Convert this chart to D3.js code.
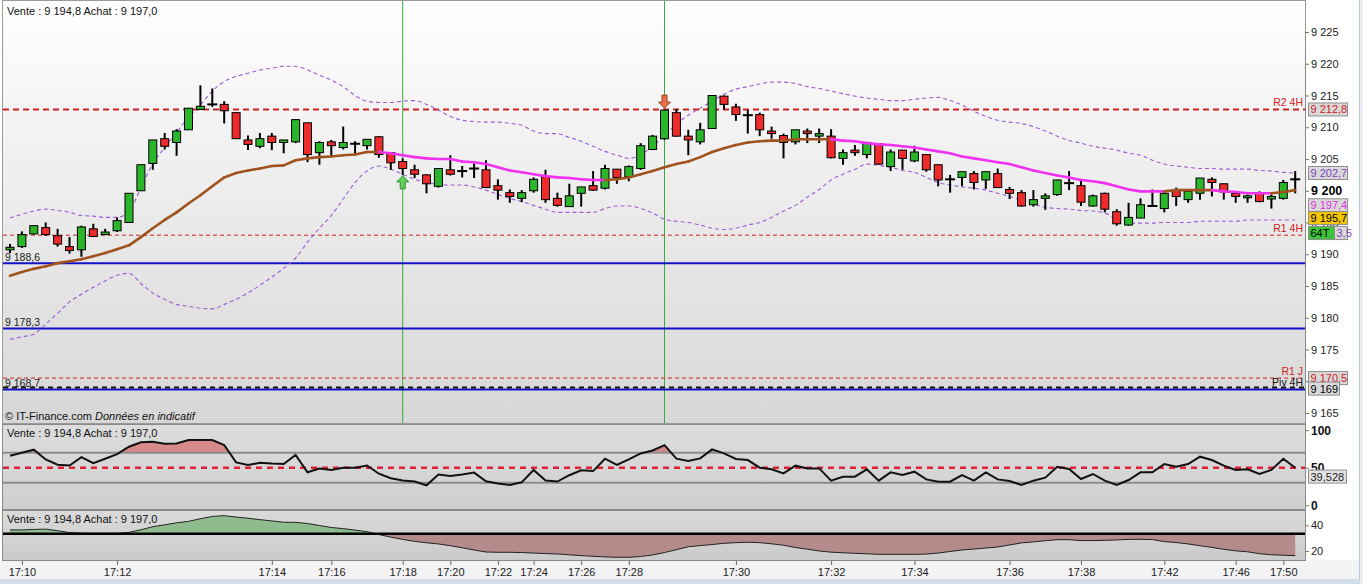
<!DOCTYPE html>
<html>
<head>
<meta charset="utf-8">
<script src="https://cdn.jsdelivr.net/npm/d3@7"></script>
<style>
  body { margin: 0; background: #fff; }
  text { font-family: "Liberation Sans", Arial, sans-serif; }
</style>
</head>
<body>
<div id="chart"></div>
<script>
// ---- data (one value per candle, 109 candles) ----
const openP = [9190.7, 9191.2, 9193.2, 9194.2, 9192.9, 9191.2, 9190.7, 9194.0, 9193.1, 9193.7,
  9195.0, 9200.0, 9204.3, 9208.2, 9207.6, 9209.6, 9212.8, 9213.6, 9213.6, 9212.3,
  9208.0, 9207.0, 9208.6, 9207.6, 9207.7, 9210.7, 9206.0, 9207.7, 9206.8, 9207.4,
  9207.1, 9208.5, 9206.0, 9204.6, 9203.3, 9202.5, 9200.7, 9203.3, 9203.1, 9203.5,
  9203.3, 9200.8, 9199.7, 9198.8, 9200.0, 9202.2, 9198.8, 9197.5, 9199.6, 9200.8,
  9200.4, 9203.4, 9202.2, 9203.5, 9206.5, 9208.2, 9212.3, 9208.6, 9207.7, 9209.8,
  9214.9, 9213.2, 9211.9, 9212.0, 9209.4, 9208.7, 9207.7, 9209.4, 9208.6, 9208.6,
  9205.1, 9206.4, 9205.7, 9207.4, 9203.8, 9206.4, 9204.7, 9205.7, 9204.1, 9201.8,
  9202.1, 9202.7, 9201.7, 9202.7, 9200.2, 9199.7, 9197.8, 9198.8, 9199.4, 9201.2,
  9200.8, 9197.6, 9199.6, 9196.7, 9194.6, 9195.7, 9197.6, 9197.2, 9200.1, 9198.6,
  9199.6, 9201.8, 9201.1, 9199.6, 9198.9, 9199.6, 9198.7, 9198.8, 9201.8];
const highP = [9191.6, 9193.6, 9194.5, 9195.0, 9194.0, 9192.7, 9194.5, 9194.8, 9194.0, 9195.8,
  9199.6, 9204.1, 9208.0, 9209.1, 9209.7, 9213.0, 9216.6, 9216.1, 9214.1, 9212.3,
  9208.7, 9209.1, 9209.1, 9208.0, 9211.2, 9210.7, 9207.8, 9208.0, 9210.1, 9207.8,
  9208.1, 9208.6, 9206.0, 9205.1, 9204.1, 9202.6, 9203.5, 9205.6, 9203.9, 9204.3,
  9204.8, 9201.8, 9200.2, 9200.1, 9202.1, 9203.3, 9199.7, 9201.1, 9200.6, 9203.1,
  9204.1, 9203.4, 9204.0, 9207.5, 9208.8, 9212.7, 9212.9, 9209.6, 9210.7, 9215.0,
  9215.0, 9213.7, 9212.7, 9212.3, 9210.1, 9209.0, 9209.6, 9209.8, 9209.8, 9209.7,
  9206.5, 9207.2, 9207.6, 9207.5, 9206.5, 9206.4, 9207.1, 9205.7, 9204.1, 9202.5,
  9203.0, 9203.1, 9203.0, 9203.5, 9200.6, 9200.1, 9200.1, 9199.6, 9201.7, 9203.1,
  9201.7, 9199.4, 9199.7, 9197.1, 9198.1, 9198.8, 9200.2, 9199.8, 9200.5, 9200.1,
  9202.0, 9202.1, 9201.1, 9199.6, 9199.4, 9199.9, 9199.4, 9201.7, 9203.1];
const lowP = [9190.2, 9191.0, 9193.1, 9192.9, 9191.2, 9190.1, 9189.6, 9192.7, 9193.1, 9193.5,
  9195.0, 9200.0, 9203.3, 9206.5, 9205.5, 9209.6, 9212.8, 9213.2, 9210.6, 9208.2,
  9206.4, 9206.7, 9206.4, 9205.9, 9207.5, 9204.5, 9204.1, 9205.3, 9206.5, 9205.6,
  9206.5, 9205.2, 9203.3, 9202.5, 9202.0, 9199.6, 9200.5, 9202.4, 9202.1, 9202.0,
  9200.5, 9198.6, 9198.1, 9198.2, 9199.7, 9198.1, 9197.5, 9197.5, 9197.5, 9200.0,
  9200.2, 9201.1, 9201.5, 9203.3, 9206.4, 9208.0, 9208.5, 9205.6, 9207.3, 9209.8,
  9212.8, 9211.0, 9209.0, 9208.6, 9208.2, 9205.1, 9207.3, 9207.5, 9207.5, 9205.1,
  9204.1, 9205.5, 9205.1, 9204.1, 9203.1, 9203.3, 9204.5, 9203.0, 9200.7, 9199.7,
  9200.7, 9200.2, 9200.3, 9200.5, 9198.7, 9197.5, 9197.5, 9197.0, 9199.2, 9200.1,
  9197.6, 9197.5, 9196.6, 9194.5, 9194.5, 9195.7, 9197.6, 9196.6, 9197.6, 9198.1,
  9198.6, 9199.1, 9198.6, 9198.1, 9198.1, 9198.2, 9197.2, 9198.6, 9199.6];
const closeP = [9191.1, 9193.1, 9194.5, 9193.1, 9191.6, 9190.6, 9194.3, 9192.8, 9193.5, 9195.3,
  9199.6, 9204.1, 9208.0, 9207.0, 9209.4, 9213.0, 9213.3, 9213.6, 9212.6, 9208.2,
  9207.3, 9208.2, 9207.6, 9208.0, 9211.2, 9205.7, 9207.6, 9207.1, 9207.6, 9207.4,
  9208.1, 9205.7, 9204.4, 9203.5, 9202.6, 9201.1, 9203.5, 9202.6, 9203.1, 9203.5,
  9200.5, 9200.1, 9199.1, 9199.7, 9201.8, 9198.6, 9197.7, 9199.2, 9200.6, 9200.1,
  9203.5, 9202.1, 9203.8, 9207.1, 9208.6, 9212.7, 9208.6, 9208.0, 9209.6, 9215.0,
  9213.6, 9212.0, 9211.9, 9209.6, 9209.0, 9207.6, 9209.6, 9209.0, 9209.0, 9205.2,
  9206.0, 9206.0, 9207.6, 9204.2, 9206.1, 9205.1, 9206.1, 9203.3, 9201.7, 9201.8,
  9203.0, 9201.3, 9203.0, 9200.5, 9199.6, 9197.6, 9198.6, 9199.2, 9201.7, 9201.2,
  9198.2, 9199.2, 9197.1, 9194.8, 9195.8, 9197.8, 9197.6, 9199.6, 9199.1, 9199.9,
  9202.0, 9201.3, 9199.8, 9199.1, 9199.2, 9198.3, 9199.1, 9201.3, 9201.8];

// moving average (brown when rising, magenta when falling)
const maLine = [9186.6, 9187.2, 9187.7, 9188.1, 9188.6, 9188.9, 9189.2, 9189.7, 9190.2, 9190.8,
  9191.4, 9192.7, 9194.1, 9195.4, 9196.6, 9198.0, 9199.3, 9200.7, 9202.1, 9202.8,
  9203.2, 9203.5, 9203.9, 9204.0, 9204.8, 9205.1, 9205.3, 9205.4, 9205.6, 9205.7,
  9206.1, 9206.1, 9205.9, 9205.6, 9205.3, 9205.1, 9205.0, 9205.0, 9204.6, 9204.5,
  9204.2, 9203.7, 9203.2, 9202.9, 9202.6, 9202.3, 9202.1, 9202.0, 9201.8, 9201.7,
  9201.7, 9201.8, 9202.1, 9202.6, 9203.1, 9203.7, 9204.2, 9204.6, 9205.3, 9206.1,
  9206.7, 9207.2, 9207.6, 9207.8, 9207.9, 9207.9, 9208.1, 9208.1, 9208.1, 9208.1,
  9207.9, 9207.8, 9207.5, 9207.3, 9207.2, 9207.0, 9206.8, 9206.5, 9206.2, 9205.9,
  9205.4, 9205.1, 9204.8, 9204.5, 9204.2, 9203.7, 9203.2, 9202.8, 9202.4, 9202.1,
  9201.7, 9201.5, 9201.2, 9200.7, 9200.2, 9199.9, 9199.9, 9199.9, 9200.1, 9200.1,
  9200.1, 9200.1, 9199.9, 9199.8, 9199.6, 9199.6, 9199.6, 9199.8, 9200.1];

// bollinger bands
const bbUpper = [9195.7, 9196.3, 9196.8, 9197.1, 9196.9, 9196.6, 9196.1, 9196.0, 9195.8, 9195.8,
  9196.8, 9200.4, 9204.3, 9206.8, 9209.2, 9211.6, 9213.5, 9215.7, 9217.2, 9218.0,
  9218.5, 9219.0, 9219.3, 9219.6, 9219.6, 9219.0, 9218.2, 9217.4, 9216.4, 9215.0,
  9214.1, 9213.9, 9213.9, 9214.1, 9214.2, 9213.6, 9212.7, 9211.7, 9211.1, 9210.9,
  9210.8, 9210.8, 9210.6, 9210.3, 9209.4, 9209.0, 9209.0, 9208.4, 9207.8, 9207.0,
  9206.2, 9205.6, 9205.1, 9205.7, 9207.0, 9208.7, 9210.5, 9211.9, 9213.0, 9214.1,
  9215.2, 9216.0, 9216.4, 9216.8, 9217.1, 9217.1, 9216.9, 9216.4, 9216.1, 9215.7,
  9215.3, 9214.9, 9214.6, 9214.4, 9214.2, 9214.2, 9214.4, 9214.6, 9214.7, 9214.2,
  9213.5, 9212.5, 9211.7, 9211.1, 9210.8, 9210.6, 9210.1, 9209.4, 9208.6, 9207.9,
  9207.5, 9207.0, 9206.7, 9206.4, 9205.9, 9205.6, 9204.8, 9204.2, 9203.9, 9203.7,
  9203.5, 9203.5, 9203.4, 9203.4, 9203.4, 9203.2, 9203.1, 9202.9, 9202.8];
const bbLower = [9176.6, 9177.0, 9177.4, 9179.0, 9180.7, 9182.5, 9183.7, 9184.8, 9185.8, 9186.7,
  9187.0, 9185.4, 9183.9, 9182.9, 9182.1, 9181.8, 9181.5, 9181.4, 9182.1, 9182.9,
  9183.9, 9185.1, 9186.4, 9187.8, 9189.4, 9191.9, 9194.1, 9196.1, 9198.7, 9201.3,
  9203.1, 9203.9, 9203.4, 9202.6, 9201.8, 9201.3, 9201.0, 9200.9, 9200.9, 9200.6,
  9200.1, 9199.4, 9198.8, 9198.3, 9197.7, 9197.1, 9196.6, 9196.6, 9196.6, 9196.6,
  9197.2, 9197.6, 9197.6, 9197.2, 9196.5, 9195.5, 9195.2, 9195.0, 9194.6, 9194.1,
  9193.9, 9194.1, 9194.6, 9195.0, 9195.8, 9196.8, 9197.7, 9199.0, 9200.2, 9201.7,
  9202.6, 9203.4, 9204.2, 9204.0, 9203.7, 9203.2, 9202.9, 9202.1, 9201.3, 9200.9,
  9200.6, 9200.4, 9200.1, 9199.6, 9199.1, 9198.5, 9197.9, 9197.4, 9197.2, 9197.1,
  9196.9, 9196.8, 9196.5, 9195.5, 9194.9, 9194.9, 9194.9, 9195.0, 9195.0, 9195.0,
  9195.2, 9195.2, 9195.2, 9195.2, 9195.4, 9195.4, 9195.4, 9195.4, 9195.4];

// RSI panel
const rsiLine = [66, 70, 74, 61, 54, 53, 64, 56, 62, 68,
  78, 84, 84.5, 82, 82.4, 86.9, 86.9, 86.9, 80.2, 57.1,
  53.6, 56.5, 55.5, 55, 67, 44, 49, 47, 50, 50,
  53, 42, 36, 33, 31.5, 26.5, 41, 39, 41, 43.5,
  32, 29, 27, 30.5, 47, 33, 31.5, 40, 46.5, 45.5,
  62, 53.6, 61, 69, 73, 80, 62, 59, 62.4, 74.4,
  69.1, 61.6, 60.2, 50, 47.8, 42.4, 52.7, 49.1, 49.1, 32.7,
  38, 38, 47.8, 32.7, 43.8, 40.2, 44.7, 34.4, 31.3, 31.3,
  40.2, 32.7, 43.8, 34.4, 32.2, 26.9, 32.7, 36.7, 51.3, 48.2,
  34.9, 41.6, 32.7, 26.9, 33.6, 43.8, 43.8, 54.9, 51.3, 54.9,
  64.7, 60.2, 52.7, 47, 47.8, 41.6, 47, 62, 50];
const rsiLast = 39.528;
const rsiBands = [70, 30];

// lower oscillator panel
const oscLine = [36.4, 36.4, 36.8, 37, 35.8, 34.3, 33.9, 33.8, 33.8, 33.8,
  34.5, 36.5, 38.9, 40.4, 41.9, 43.1, 45.1, 46.9, 47.5, 46.4,
  45.5, 44.4, 43.4, 42.4, 42.3, 41.4, 39.8, 38.3, 37.4, 36.3,
  35, 32.8, 30.8, 29, 27.5, 26.4, 25.5, 24.1, 22.5, 20.8,
  19.2, 19, 19, 18.8, 18.4, 18, 17.7, 17, 16.4, 15.9,
  15.4, 15.1, 15.1, 15.7, 16.9, 18.8, 21, 23.3, 24.2, 25,
  26, 26.5, 26.8, 26.5, 25.6, 24.5, 22.7, 21.4, 20, 19.1,
  18.6, 18.2, 17.8, 17.4, 17.4, 17.4, 17.4, 17.6, 18.4, 19.6,
  20.8, 21.5, 22.3, 23.1, 24.7, 26.3, 27.1, 28, 28.8, 28.8,
  28.1, 28.1, 28.3, 28.6, 29, 29.1, 28.9, 27.3, 26.6, 25.5,
  24.1, 22.8, 21.3, 20.1, 19.4, 17.9, 17.1, 16.7, 16.4];
const oscBase = 33.5;

// time axis: candle index of each label
const tickIndex = [1, 9, 22, 27, 33, 37, 41, 44, 48, 52, 61, 69, 76, 84, 90, 97, 103, 107];
const tickLabel = ["17:10", "17:12", "17:14", "17:16", "17:18", "17:20", "17:22", "17:24", "17:26",
  "17:28", "17:30", "17:32", "17:34", "17:36", "17:38", "17:42", "17:46", "17:50"];

// pivot levels (dashed) and support lines (blue)
const pivotNames = ["R2 4H", "R1 4H", "R1 J", "Piv 4H"];
const pivotValues = [9212.8, 9193.0, 9170.5, 9169.0];
const supportValues = [9188.6, 9178.3, 9168.7];

// signals: vertical lines, buy below, sell above
const buyIndex = 33, sellIndex = 55;

const quoteText = "Vente : 9 194,8 Achat : 9 197,0";

// ---- layout ----
const W = 1363, H = 584;
const plotL = 3, plotR = 1305;
const mainT = 0, mainB = 423;
const rsiT = 425, rsiB = 509;
const oscT = 511, oscB = 560;

const loc = d3.formatLocale({ decimal: ",", thousands: " ", grouping: [3], currency: ["", ""] });
const fmt0 = loc.format(",.0f");
const fmt1 = loc.format(",.1f");
const fmt3 = loc.format(".3f");

const n = closeP.length;
const idx = d3.range(n);

const x = d3.scaleLinear().domain([0, 108]).range([10, 1295.2]);
const y = d3.scaleLinear().domain([9165, 9225]).range([413, 32]);
const yR = d3.scaleLinear().domain([0, 100]).range([505.2, 430.2]);
const yO = d3.scaleLinear().domain([20, 40]).range([551, 525.3]);

const svg = d3.select("#chart").append("svg")
  .attr("width", W).attr("height", H);

const defs = svg.append("defs");
function vGrad(id, c0, c1) {
  const g = defs.append("linearGradient").attr("id", id)
    .attr("x1", "0%").attr("y1", "0%").attr("x2", "0%").attr("y2", "100%");
  g.append("stop").attr("offset", "0%").attr("stop-color", c0);
  g.append("stop").attr("offset", "100%").attr("stop-color", c1);
}
vGrad("gMain", "#ffffff", "#d7d7d7");
vGrad("gRsi", "#dddddd", "#cfcfcf");
vGrad("gOsc", "#dadada", "#cbcbcb");

function clip(id, x0, y0, x1, y1) {
  defs.append("clipPath").attr("id", id).append("rect")
    .attr("x", x0).attr("y", y0).attr("width", x1 - x0).attr("height", y1 - y0);
}
clip("cMain", plotL, mainT, plotR, mainB);
clip("cRsi", plotL, rsiT, plotR, rsiB);
clip("cRsiHigh", plotL, rsiT, plotR, yR(70));
clip("cOscUp", plotL, oscT, plotR, yO(oscBase));
clip("cOscDown", plotL, yO(oscBase), plotR, oscB);

// page background and frame
svg.append("rect").attr("width", W).attr("height", H).attr("fill", "#ffffff");
svg.append("rect").attr("x", 0).attr("y", 579).attr("width", W).attr("height", 5).attr("fill", "#d3dde8");
svg.append("line").attr("x1", 1359.5).attr("x2", 1359.5).attr("y1", 0).attr("y2", 579)
  .attr("stroke", "#b9c6d3");
svg.append("rect").attr("x", 1360).attr("y", 0).attr("width", 3).attr("height", 584).attr("fill", "#e9eef3");

// panel backgrounds
svg.append("rect").attr("x", plotL).attr("y", mainT).attr("width", plotR - plotL).attr("height", mainB - mainT)
  .attr("fill", "url(#gMain)");
svg.append("rect").attr("x", plotL).attr("y", rsiT).attr("width", plotR - plotL).attr("height", rsiB - rsiT)
  .attr("fill", "url(#gRsi)");
svg.append("rect").attr("x", plotL).attr("y", oscT).attr("width", plotR - plotL).attr("height", oscB - oscT)
  .attr("fill", "url(#gOsc)");
svg.append("rect").attr("x", 0).attr("y", oscB).attr("width", 1359).attr("height", 19).attr("fill", "#f3f3f3");

// ================= main panel =================
const main = svg.append("g").attr("clip-path", "url(#cMain)");

// signal verticals
main.selectAll(".sig").data([buyIndex, sellIndex]).join("line")
  .attr("x1", d => x(d)).attr("x2", d => x(d))
  .attr("y1", mainT).attr("y2", mainB)
  .attr("stroke", "#3daa3d").attr("stroke-width", 1);

// support lines
main.selectAll(".sup").data(supportValues).join("line")
  .attr("x1", plotL).attr("x2", plotR)
  .attr("y1", d => y(d)).attr("y2", d => y(d))
  .attr("stroke", "#1010c8").attr("stroke-width", 2);

// pivot lines
const pivotStyle = [
  { c: "#cc2020", w: 2, dash: "6,4" },
  { c: "#cc2020", w: 1, dash: "4,3" },
  { c: "#cc2020", w: 1, dash: "4,3" },
  { c: "#111111", w: 2, dash: "5,4" }
];
main.selectAll(".piv").data(pivotValues).join("line")
  .attr("x1", plotL).attr("x2", plotR)
  .attr("y1", d => y(d)).attr("y2", d => y(d))
  .attr("stroke", (d, i) => pivotStyle[i].c)
  .attr("stroke-width", (d, i) => pivotStyle[i].w)
  .attr("stroke-dasharray", (d, i) => pivotStyle[i].dash);

// bollinger bands
const bbGen = d3.line().x((d, i) => x(i)).y(d => y(d)).curve(d3.curveMonotoneX);
[bbUpper, bbLower].forEach(band => {
  main.append("path").datum(band)
    .attr("d", bbGen)
    .attr("fill", "none")
    .attr("stroke", "#9a5cd6")
    .attr("stroke-width", 1.1)
    .attr("stroke-dasharray", "4,3");
});

// candles
const up = "#2bb52b", down = "#ee2b2b";
const candles = main.selectAll(".candle").data(idx).join("g");
candles.append("line")
  .attr("x1", i => x(i)).attr("x2", i => x(i))
  .attr("y1", i => y(highP[i])).attr("y2", i => y(lowP[i]))
  .attr("stroke", "#000").attr("stroke-width", 2);
candles.filter(i => openP[i] !== closeP[i]).append("rect")
  .attr("x", i => x(i) - 4)
  .attr("y", i => y(Math.max(openP[i], closeP[i])))
  .attr("width", 8)
  .attr("height", i => Math.max(2, y(Math.min(openP[i], closeP[i])) - y(Math.max(openP[i], closeP[i]))))
  .attr("fill", i => closeP[i] > openP[i] ? up : down)
  .attr("stroke", "#000").attr("stroke-width", 1);
candles.filter(i => openP[i] === closeP[i]).append("line")
  .attr("x1", i => x(i) - 5).attr("x2", i => x(i) + 5)
  .attr("y1", i => y(closeP[i])).attr("y2", i => y(closeP[i]))
  .attr("stroke", "#000").attr("stroke-width", 2);

// moving average, coloured by slope
let lastCol = "#a0521e";
const maSegs = [];
for (let i = 0; i < n - 1; i++) {
  if (maLine[i + 1] > maLine[i]) lastCol = "#a0521e";
  else if (maLine[i + 1] < maLine[i]) lastCol = "#f032f0";
  maSegs.push({ i: i, c: lastCol });
}
main.selectAll(".ma").data(maSegs).join("line")
  .attr("x1", d => x(d.i)).attr("x2", d => x(d.i + 1))
  .attr("y1", d => y(maLine[d.i])).attr("y2", d => y(maLine[d.i + 1]))
  .attr("stroke", d => d.c).attr("stroke-width", 2.6).attr("stroke-linecap", "round");

// buy / sell arrows
const bx = x(buyIndex), by = y(lowP[buyIndex]) + 1;
main.append("path")
  .attr("d", `M${bx},${by} l6,6 h-3.5 v7 h-5 v-7 h-3.5 z`)
  .attr("fill", "#5cd05c").attr("stroke", "#2f8f2f").attr("stroke-width", 1);
const sx = x(sellIndex), sy = y(highP[sellIndex]) - 2;
main.append("path")
  .attr("d", `M${sx},${sy} l6,-6 h-3.5 v-7 h-5 v7 h-3.5 z`)
  .attr("fill", "#e8704a").attr("stroke", "#a0401e").attr("stroke-width", 1);

// texts inside main panel
svg.append("text").attr("x", 7).attr("y", 15).attr("font-size", 11).attr("fill", "#111").text(quoteText);
supportValues.forEach(v => {
  svg.append("text").attr("x", 5).attr("y", y(v) - 2.5).attr("font-size", 10.5).attr("fill", "#222")
    .text(fmt1(v));
});
pivotNames.forEach((nm, i) => {
  svg.append("text").attr("x", plotR - 2).attr("y", y(pivotValues[i]) - (i === 3 ? 1.5 : 3.5))
    .attr("text-anchor", "end").attr("font-size", 10.5)
    .attr("fill", i === 3 ? "#111" : "#d02020").text(nm);
});
const cp = svg.append("text").attr("x", 5).attr("y", 420).attr("font-size", 11).attr("fill", "#111");
cp.append("tspan").text("© IT-Finance.com  ");
cp.append("tspan").attr("font-style", "italic").text("Données en indicatif");

// main border + price axis
svg.append("rect").attr("x", plotL - 0.5).attr("y", mainT + 0.5).attr("width", plotR - plotL + 1)
  .attr("height", mainB - mainT).attr("fill", "none").attr("stroke", "#9a9a9a");

const yAxis = svg.append("g").attr("transform", `translate(${plotR},0)`)
  .call(d3.axisRight(y).tickValues(d3.range(9165, 9226, 5)).tickSize(4).tickPadding(2).tickFormat(fmt0));
yAxis.select(".domain").attr("stroke", "#888");
yAxis.selectAll(".tick line").attr("stroke", "#777");
yAxis.selectAll(".tick text").attr("font-size", 11).attr("fill", "#222")
  .attr("font-family", "Liberation Sans, Arial, sans-serif");
yAxis.selectAll(".tick text").filter(d => d === 9200).attr("font-weight", "bold").attr("font-size", 12.5).attr("fill", "#000");

// value boxes on the price axis
function box(cy, label, opts) {
  const g = svg.append("g");
  g.append("rect").attr("x", opts.x || 1308.5).attr("y", cy - 6.5).attr("width", opts.w || 39)
    .attr("height", 13).attr("fill", opts.bg || "#d9d9d9").attr("stroke", "#8e8e8e");
  g.append("text").attr("x", (opts.x || 1308.5) + 2).attr("y", cy + 4).attr("font-size", 11)
    .attr("fill", opts.c || "#000").text(label);
}
box(y(pivotValues[0]), fmt1(pivotValues[0]), { c: "#d02020" });
box(y(bbUpper[n - 1]), fmt1(9202.7), { c: "#8040c0" });
box(y(9197.4) - 2, fmt1(9197.4), { c: "#e030e0" });
box(y(9195.7), fmt1(9195.7), { bg: "#f7c600" });
box(y(9195.7) + 15, "64T", { bg: "#3ec33e", w: 26 });
box(y(9195.7) + 15, "3,5", { x: 1334.5, w: 13, c: "#8040c0" });
box(y(pivotValues[2]), fmt1(pivotValues[2]), { c: "#d02020" });
box(y(pivotValues[3]) + 1, fmt0(pivotValues[3]), { w: 31 });

// ================= RSI panel =================
const rsiG = svg.append("g").attr("clip-path", "url(#cRsi)");
const rsiGen = d3.line().x((d, i) => x(i)).y(d => yR(d));
const rsiArea = d3.area().x((d, i) => x(i)).y0(yR(70)).y1(d => yR(d));
rsiG.append("path").datum(rsiLine).attr("d", rsiArea)
  .attr("fill", "#d78a8a").attr("clip-path", "url(#cRsiHigh)");
rsiG.selectAll(".band").data(rsiBands).join("line")
  .attr("x1", plotL).attr("x2", plotR)
  .attr("y1", d => yR(d)).attr("y2", d => yR(d))
  .attr("stroke", "#8c8c8c").attr("stroke-width", 2);
rsiG.append("line").attr("x1", plotL).attr("x2", plotR)
  .attr("y1", yR(50)).attr("y2", yR(50))
  .attr("stroke", "#e0203a").attr("stroke-width", 2.5).attr("stroke-dasharray", "6,5");
rsiG.append("path").datum(rsiLine).attr("d", rsiGen)
  .attr("fill", "none").attr("stroke", "#111").attr("stroke-width", 2);
svg.append("text").attr("x", 7).attr("y", 437).attr("font-size", 11).attr("fill", "#111").text(quoteText);
svg.append("rect").attr("x", plotL - 0.5).attr("y", rsiT - 0.5).attr("width", plotR - plotL + 1)
  .attr("height", rsiB - rsiT + 1).attr("fill", "none").attr("stroke", "#8a8a8a");

const rAxis = svg.append("g").attr("transform", `translate(${plotR},0)`)
  .call(d3.axisRight(yR).tickValues([0, 50, 100]).tickSize(4).tickPadding(2));
rAxis.select(".domain").remove();
rAxis.selectAll(".tick line").attr("stroke", "#777");
rAxis.selectAll(".tick text").attr("font-size", 12).attr("font-weight", "bold").attr("fill", "#111")
  .attr("font-family", "Liberation Sans, Arial, sans-serif");
box(yR(rsiLast) + 1, fmt3(rsiLast), { w: 38, bg: "#e2e2e2", c: "#222" });

// ================= oscillator panel =================
const oscG = svg.append("g");
const oscArea = d3.area().x((d, i) => x(i)).y0(yO(oscBase)).y1(d => yO(d));
oscG.append("path").datum(oscLine).attr("d", oscArea)
  .attr("fill", "#8fbc8f").attr("clip-path", "url(#cOscUp)");
oscG.append("path").datum(oscLine).attr("d", oscArea)
  .attr("fill", "#b48a8a").attr("clip-path", "url(#cOscDown)");
oscG.append("path").datum(oscLine)
  .attr("d", d3.line().x((d, i) => x(i)).y(d => yO(d)))
  .attr("fill", "none").attr("stroke", "#222").attr("stroke-width", 1);
oscG.append("line").attr("x1", plotL).attr("x2", plotR)
  .attr("y1", yO(oscBase)).attr("y2", yO(oscBase))
  .attr("stroke", "#000").attr("stroke-width", 2.5);
svg.append("text").attr("x", 7).attr("y", 523).attr("font-size", 11).attr("fill", "#111").text(quoteText);
svg.append("rect").attr("x", plotL - 0.5).attr("y", oscT - 0.5).attr("width", plotR - plotL + 1)
  .attr("height", oscB - oscT + 1).attr("fill", "none").attr("stroke", "#8a8a8a");

const oAxis = svg.append("g").attr("transform", `translate(${plotR},0)`)
  .call(d3.axisRight(yO).tickValues([20, 40]).tickSize(4).tickPadding(2));
oAxis.select(".domain").remove();
oAxis.selectAll(".tick line").attr("stroke", "#777");
oAxis.selectAll(".tick text").attr("font-size", 11).attr("fill", "#222")
  .attr("font-family", "Liberation Sans, Arial, sans-serif");

// ================= time axis =================
const xAxis = svg.append("g").attr("transform", `translate(0,${oscB + 1})`)
  .call(d3.axisBottom(x).tickValues(tickIndex).tickSize(4).tickPadding(3)
    .tickFormat((d, i) => tickLabel[i]));
xAxis.select(".domain").remove();
xAxis.selectAll(".tick line").attr("stroke", "#666");
xAxis.selectAll(".tick text").attr("font-size", 11).attr("fill", "#222")
  .attr("font-family", "Liberation Sans, Arial, sans-serif");
</script>
</body>
</html>
